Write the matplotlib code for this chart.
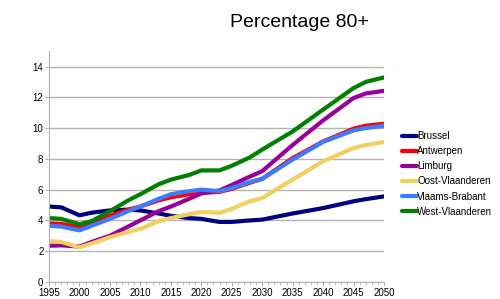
import matplotlib
matplotlib.use("Agg")
import matplotlib.pyplot as plt
from matplotlib.ticker import MultipleLocator

plt.rcParams['font.family'] = ['Liberation Sans', 'DejaVu Sans']

years = [1995, 1997, 2000, 2002, 2005, 2008, 2010, 2013, 2015, 2018, 2020, 2023,
         2025, 2028, 2030, 2035, 2040, 2045, 2047, 2050]

brussel = [4.9, 4.85, 4.33, 4.5, 4.65, 4.7, 4.65, 4.45, 4.3, 4.15, 4.1, 3.9,
           3.9, 4.0, 4.05, 4.45, 4.8, 5.24, 5.38, 5.56]
antwerpen = [3.8, 3.78, 3.55, 3.85, 4.3, 4.7, 4.9, 5.3, 5.5, 5.7, 5.8, 5.85,
             6.05, 6.45, 6.7, 8.05, 9.13, 9.96, 10.15, 10.28]
limburg = [2.35, 2.38, 2.3, 2.6, 3.0, 3.6, 4.0, 4.6, 4.9, 5.4, 5.75, 5.95,
           6.3, 6.85, 7.2, 8.9, 10.5, 11.95, 12.25, 12.42]
oost_vl = [2.65, 2.6, 2.25, 2.5, 2.9, 3.25, 3.45, 3.95, 4.15, 4.4, 4.55, 4.5,
           4.75, 5.25, 5.45, 6.65, 7.84, 8.7, 8.9, 9.09]
vlaams_br = [3.65, 3.6, 3.35, 3.65, 4.1, 4.6, 4.9, 5.4, 5.7, 5.9, 6.0, 5.9,
             6.1, 6.5, 6.7, 7.95, 9.1, 9.85, 10.0, 10.15]
west_vl = [4.15, 4.1, 3.75, 3.95, 4.6, 5.3, 5.7, 6.35, 6.65, 6.95, 7.25, 7.25,
           7.55, 8.1, 8.6, 9.78, 11.2, 12.6, 13.0, 13.29]

series = [
    ('Brussel', brussel, '#000080'),
    ('Antwerpen', antwerpen, '#ff0000'),
    ('Limburg', limburg, '#990099'),
    ('Oost-Vlaanderen', oost_vl, '#f0d060'),
    ('Vlaams-Brabant', vlaams_br, '#3c7cff'),
    ('West-Vlaanderen', west_vl, '#008000'),
]

fig = plt.figure(figsize=(5.0, 2.99), dpi=100)
ax = fig.add_axes([0.098, 0.057, 0.670, 0.772])

for name, vals, col in series:
    ax.plot(years, vals, color=col, linewidth=3, label=name, solid_capstyle='round')

ax.set_xlim(1995, 2050)
ax.set_ylim(0, 15)
ax.set_yticks(range(0, 15, 2))
ax.xaxis.set_major_locator(MultipleLocator(5))
ax.xaxis.set_minor_locator(MultipleLocator(1))
ax.yaxis.grid(True, color='#b3b3b3', linewidth=1)
ax.set_axisbelow(True)
for s in ['top', 'right']:
    ax.spines[s].set_visible(False)
for s in ['left', 'bottom']:
    ax.spines[s].set_color('#b3b3b3')
ax.tick_params(axis='both', labelsize=7, color='#b3b3b3', length=3, pad=1)
ax.tick_params(axis='x', which='minor', color='#b3b3b3', length=2)
ax.tick_params(axis='y', length=3)

fig.text(0.598, 0.925, 'Percentage 80+', fontsize=14, ha='center', va='center')

ax.legend(loc='center left', bbox_to_anchor=(1.038, 0.468), frameon=False, fontsize=7,
          handlelength=1.6, handletextpad=0.0, labelspacing=0.52, borderpad=0)

fig.savefig('out.png', dpi=100)
